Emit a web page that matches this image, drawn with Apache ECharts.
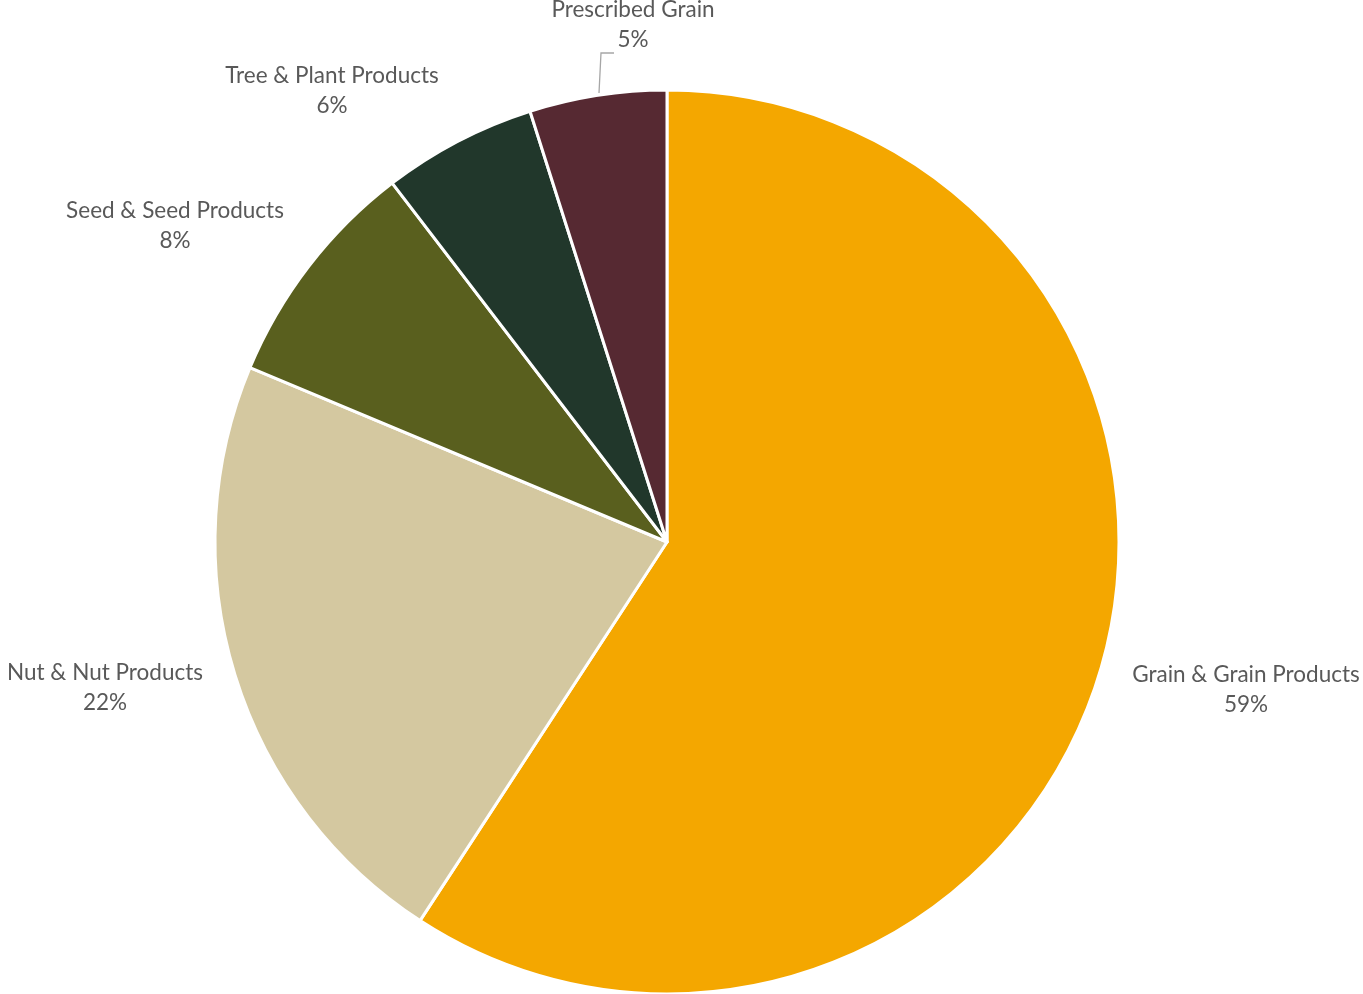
<!DOCTYPE html>
<html><head><meta charset="utf-8">
<script src="https://cdn.jsdelivr.net/npm/echarts@6/dist/echarts.min.js"></script>
<style>html,body{margin:0;padding:0;background:#fff}#c{width:1363px;height:994px}</style>
</head><body><div id="c"></div>
<script>
const categories = ["Grain & Grain Products", "Nut & Nut Products", "Seed & Seed Products", "Tree & Plant Products", "Prescribed Grain"];
const values = [59.2, 22.1, 8.3, 5.5, 4.9];
const colors = ["#F4A700", "#D4C8A0", "#595F1E", "#21372B", "#562932"];

const labelAnchors = [[1246, 690], [105, 688], [175, 226], [332, 91], [633, 25]];

const chart = echarts.init(document.getElementById('c'));
chart.setOption({
  animation: false,
  series: [{
    type: 'pie',
    center: [667, 542],
    radius: 452,
    startAngle: 90,
    clockwise: true,
    avoidLabelOverlap: false,
    itemStyle: { borderColor: '#ffffff', borderWidth: 3 },
    label: {
      show: true,
      position: 'outside',
      formatter: p => '{a|' + p.name + '}\n{a|' + Math.round(p.percent) + '%}',
      rich: {
        a: { fontFamily: 'Lato', fontSize: 22.5, lineHeight: 30, color: '#595959', align: 'center' }
      }
    },
    labelLine: { show: false },
    data: categories.map((c, i) => ({
      name: c, value: values[i],
      itemStyle: { color: colors[i] },
      labelLine: i === 4 ? { show: true, lineStyle: { color: '#A6A6A6', width: 1.3 } } : { show: false }
    })),
    emphasis: { disabled: true },
    labelLayout: function (params) {
      const i = params.dataIndex;
      const a = labelAnchors[i];
      const out = { x: a[0], y: a[1], align: 'center', verticalAlign: 'middle' };
      if (i === 4) {
        out.labelLinePoints = [[599, 93], [601, 53], [614, 53]];
      }
      return out;
    }
  }]
});
</script></body></html>
